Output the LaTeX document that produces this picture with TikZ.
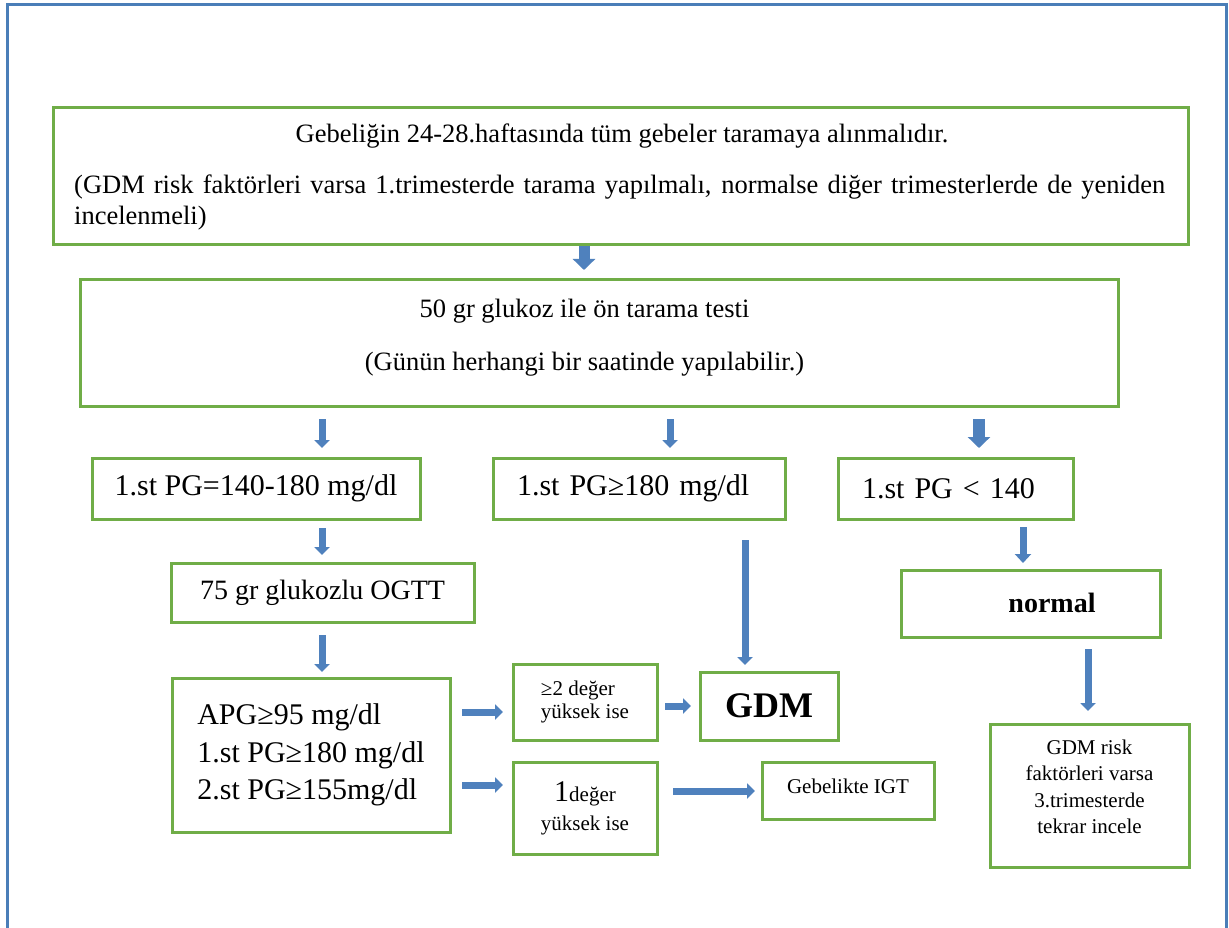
\documentclass[tikz,border=0pt]{standalone}
\usepackage{fontspec}
\setmainfont{Liberation Serif}
\usetikzlibrary{arrows.meta}
\definecolor{boxgreen}{RGB}{112,173,71}
\definecolor{frameblue}{RGB}{74,126,184}
\definecolor{arrblue}{RGB}{79,129,189}
\tikzset{
  gbox/.style={draw=boxgreen, line width=3pt, inner sep=0pt},
  fmain/.style={font=\fontsize{26.5}{31}\selectfont, inner sep=0pt},
  fbig/.style={font=\fontsize{30}{37.5}\selectfont},
  fsmall/.style={font=\fontsize{21}{23}\selectfont},
  arrS/.style={arrblue, line width=7pt, -{Triangle[length=8pt,width=15pt]}},
  arrM/.style={arrblue, line width=7pt, -{Triangle[length=9pt,width=16pt]}},
  arrL/.style={arrblue, line width=11pt, -{Triangle[length=11pt,width=22pt]}},
}
\begin{document}
\begin{tikzpicture}[x=1pt,y=-1pt]
\useasboundingbox (0,0) rectangle (1229,928);
\fill[white] (0,0) rectangle (1229,928);
\draw[frameblue, line width=3pt] (7,928) -- (7,5) -- (1226,5) -- (1226,928);

% top box
\node[gbox, minimum width=1135pt, minimum height=137pt] (top) at (620.5,176.5) {};
\node[fmain, anchor=base] (t1) at (622,143) {Gebeliğin 24-28.haftasında tüm gebeler taramaya alınmalıdır.};
\node[fmain, anchor=base west] (t2) at (74,194) {\makebox[1091pt][s]{(GDM risk faktörleri varsa 1.trimesterde tarama yapılmalı, normalse diğer trimesterlerde de yeniden}};
\node[fmain, anchor=base west] (t3) at (74,225) {incelenmeli)};

% screening box
\node[gbox, minimum width=1038pt, minimum height=127pt] (screen) at (599,342.5) {};
\node[fmain, anchor=base] (s1) at (584.5,317) {50 gr glukoz ile ön tarama testi};
\node[fmain, anchor=base] (s2) at (584.5,370) {(Günün herhangi bir saatinde yapılabilir.)};

% row of results
\node[gbox, fbig, minimum width=328pt, minimum height=61pt] (pga) at (256,488.5) {1.st PG=140-180 mg/dl};
\node[gbox, fbig, minimum width=292pt, minimum height=61pt, inner xsep=24pt, text width=244pt, align=left] (pgb) at (639,488.5) {1.st PG≥180 mg/dl};
\node[gbox, fbig, minimum width=235pt, minimum height=61pt, inner xsep=24pt, text width=187pt, align=left] (pgc) at (955.5,488.5) {1.st PG < 140};

\node[gbox, font=\fontsize{28}{32}\selectfont, minimum width=303pt, minimum height=59pt] (ogtt) at (322.5,592.5) {75 gr glukozlu OGTT};

\node[gbox, fbig, minimum width=278pt, minimum height=154pt, align=left] (apg) at (311,755) {APG≥95 mg/dl\\1.st PG≥180 mg/dl\\2.st PG≥155mg/dl};

\node[gbox, fsmall, minimum width=144pt, minimum height=76pt, align=left] (two) at (585,702) {≥2 değer\\yüksek ise};
\node[gbox, font=\fontsize{21}{29}\selectfont, minimum width=144pt, minimum height=92pt, align=center] (one) at (585,808) {{\fontsize{30}{30}\selectfont 1}değer\\yüksek ise};

\node[gbox, font=\bfseries\fontsize{36}{40}\selectfont, minimum width=138pt, minimum height=68pt] (gdm) at (769,706) {GDM};
\node[gbox, fsmall, minimum width=172pt, minimum height=57pt, text depth=8pt] (igt) at (848,790.5) {Gebelikte IGT};

\node[gbox, minimum width=259pt, minimum height=67pt] (normal) at (1030.5,603.5) {};
\node[font=\bfseries\fontsize{28}{32}\selectfont, inner sep=0pt] (normaltxt) at (1052,603) {normal};

\node[gbox, minimum width=199pt, minimum height=143pt] (risk) at (1089.5,795.5) {};
\node[font=\fontsize{21}{26.5}\selectfont, align=center, inner sep=0pt] (risktxt) at (1089.5,787) {GDM risk\\faktörleri varsa\\3.trimesterde\\tekrar incele};

% arrows
\draw[arrL, shorten >=7.5pt] (top.south -| 584,0) -- (screen.north -| 584,0);
\draw[arrS, shorten <=11.5pt, shorten >=8.5pt] (screen.south -| 322,0) -- (pga.north -| 322,0);
\draw[arrS, shorten <=11.5pt, shorten >=8.5pt] (screen.south -| 670,0) -- (pgb.north -| 670,0);
\draw[arrL, line width=12pt, shorten <=11.5pt, shorten >=8.5pt] (screen.south -| 979,0) -- (pgc.north -| 979,0);
\draw[arrS, shorten <=7.5pt, shorten >=6.5pt] (pga.south -| 322,0) -- (ogtt.north -| 322,0);
\draw[arrS, shorten <=11.5pt, shorten >=4.5pt] (ogtt.south -| 322,0) -- (apg.north -| 322,0);
\draw[arrS, shorten <=19.5pt, shorten >=5.5pt] (pgb.south -| 745,0) -- (gdm.north -| 745,0);
\draw[arrM, shorten <=6.5pt, shorten >=5.5pt] (pgc.south -| 1023,0) -- (normal.north -| 1023,0);
\draw[arrS, shorten <=10.5pt, shorten >=11.5pt] (normal.south -| 1088,0) -- (risk.north -| 1088,0);
\draw[arrS, shorten <=10.5pt, shorten >=8.5pt] (apg.east |- 0,712) -- (two.west |- 0,712);
\draw[arrS, shorten <=10.5pt, shorten >=8.5pt] (apg.east |- 0,785) -- (one.west |- 0,785);
\draw[arrS, shorten <=6.5pt, shorten >=7.5pt] (two.east |- 0,706) -- (gdm.west |- 0,706);
\draw[arrS, shorten <=14.5pt, shorten >=5.5pt] (one.east |- 0,791) -- (igt.west |- 0,791);
\end{tikzpicture}
\end{document}
